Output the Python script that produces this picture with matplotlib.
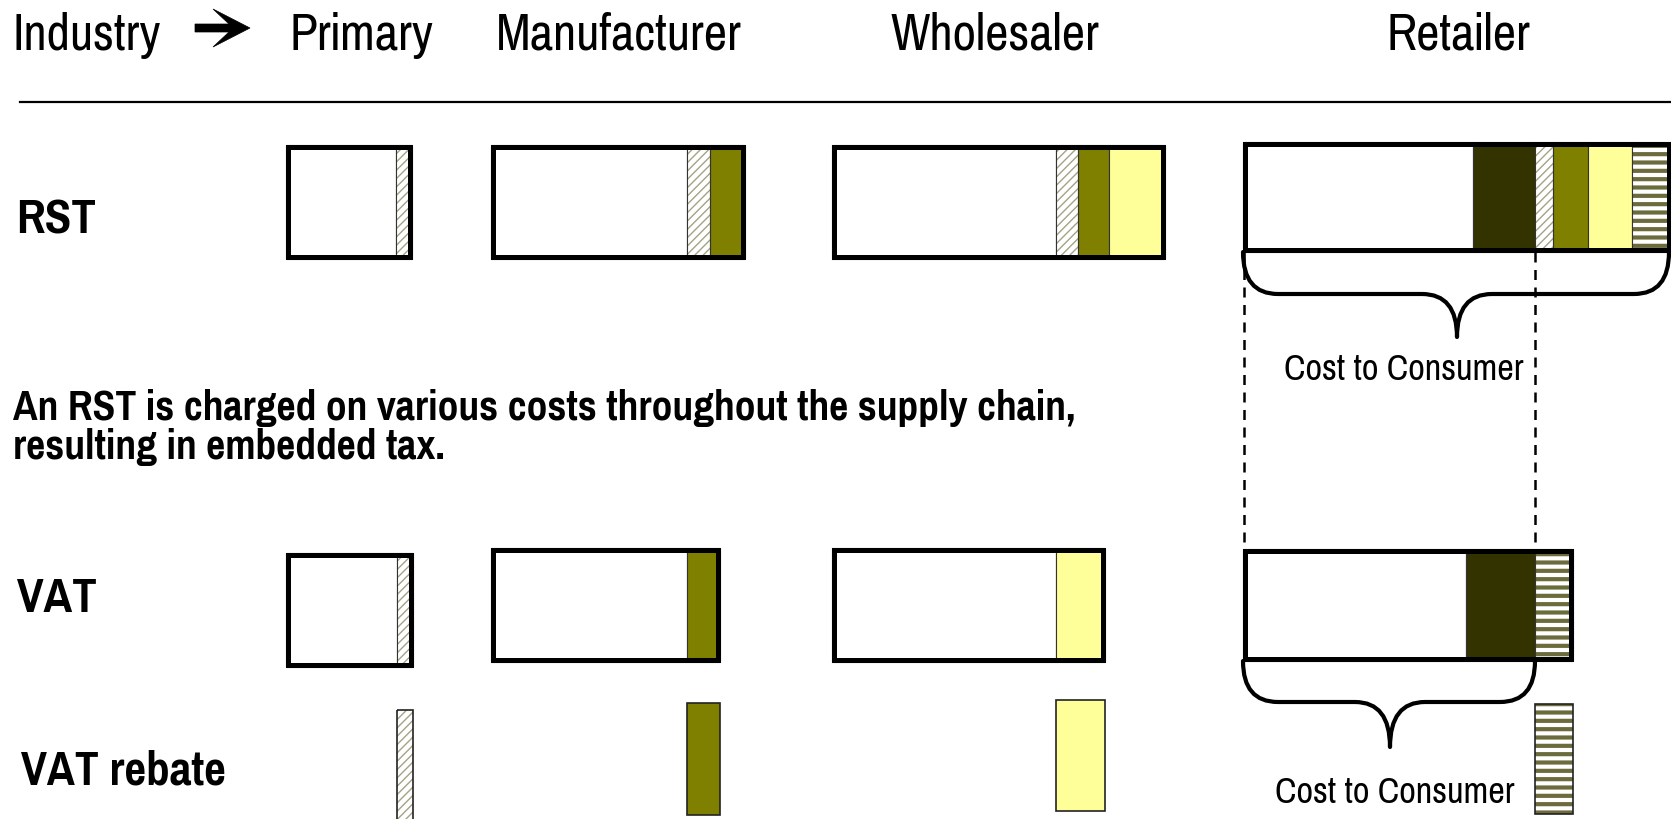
import matplotlib
matplotlib.use('Agg')
import matplotlib.pyplot as plt
from matplotlib.patches import Rectangle, PathPatch, Polygon
from matplotlib.path import Path

plt.rcParams['font.family'] = ['Pragati Narrow', 'Liberation Sans', 'DejaVu Sans']

W, H = 1671, 820

############################ data ############################################
stages = ['Primary', 'Manufacturer', 'Wholesaler', 'Retailer']
row_labels = ['RST', 'VAT', 'VAT rebate']
note_lines = ['An RST is charged on various costs throughout the supply chain,',
              'resulting in embedded tax.']
brace_label = 'Cost to Consumer'

# RST bar pieces per stage (widths, px)
rst_base = [110, 196, 224, 230]
rst_margin = [0, 0, 0, 62]
rst_tax_primary = [16, 23, 22, 18]
rst_tax_mfr = [0, 35, 31, 35]
rst_tax_whole = [0, 0, 56, 44]
rst_tax_retail = [0, 0, 0, 39]

# VAT bar pieces per stage
vat_base = [111, 196, 224, 223]
vat_margin = [0, 0, 0, 69]
vat_tax = [16, 33, 49, 38]

######################### layout ###########################################
header_x = [361, 619, 995, 1458]
box_x = [286, 491, 832, 1243]
rst_top = [146, 146, 146, 143]
rst_bot = [260, 260, 260, 253]
vat_top = [554, 549, 549, 550]
vat_bot = [668, 663, 663, 662]
reb_top = [711, 704, 701, 705]
reb_bot = [835, 816, 812, 815]

styles = {
    'base': dict(fc='white'),
    'margin': dict(fc='#333300'),
    'primary': dict(fc='white', hatch='////', hc='#a3a386'),
    'mfr': dict(fc='#808000'),
    'whole': dict(fc='#ffff99'),
    'retail': dict(fc='white', hatch='--', hc='#6b6b3c'),
}
stage_style = ['primary', 'mfr', 'whole', 'retail']

fig = plt.figure(figsize=(W / 100, H / 100), dpi=100)
ax = fig.add_axes([0, 0, 1, 1])
ax.set_xlim(0, W)
ax.set_ylim(H, 0)
ax.axis('off')


def piece(x, y0, w, y1, key, edge='#333333', lw=0.8):
    st = styles[key]
    if 'hatch' in st:
        ax.add_patch(Rectangle((x, y0), w, y1 - y0, facecolor=st['fc'], edgecolor='none', zorder=2))
        hlw = 3.0 if key == 'retail' else 1.0
        with plt.rc_context({'hatch.linewidth': hlw}):
            hp = Rectangle((x, y0), w, y1 - y0, facecolor='none', edgecolor=st['hc'],
                           linewidth=0, hatch=st['hatch'], zorder=2)
            if hasattr(hp, 'set_hatch_linewidth'):
                hp.set_hatch_linewidth(hlw)
        ax.add_patch(hp)
        ax.add_patch(Rectangle((x, y0), w, y1 - y0, fill=False, edgecolor=edge, linewidth=lw, zorder=3))
    else:
        ax.add_patch(Rectangle((x, y0), w, y1 - y0, facecolor=st['fc'], edgecolor=edge,
                               linewidth=lw, zorder=2))


def bar(x0, y0, y1, parts):
    x = x0
    for key, w in parts:
        if w > 0:
            piece(x, y0, w, y1, key)
            x += w
    # thick frame
    ax.add_patch(Rectangle((x0 + 2, y0 + 2), x - x0 - 4, y1 - y0 - 4, fill=False,
                           edgecolor='black', linewidth=3.6, zorder=4))
    return x


def brace(x0, x1, ytop, ymid, ytip, xc, r=35):
    verts = [(x0, ytop), (x0, ymid), (x0 + r, ymid),
             (xc - r, ymid), (xc, ymid), (xc, ytip),
             (xc, ymid), (xc + r, ymid),
             (x1 - r, ymid), (x1, ymid), (x1, ytop)]
    codes = [Path.MOVETO, Path.CURVE3, Path.CURVE3,
             Path.LINETO, Path.CURVE3, Path.CURVE3,
             Path.CURVE3, Path.CURVE3,
             Path.LINETO, Path.CURVE3, Path.CURVE3]
    ax.add_patch(PathPatch(Path(verts, codes), fill=False, edgecolor='black',
                           linewidth=3.0, capstyle='round', joinstyle='round', zorder=5))


def big_arrow(x0, x1, yc, h=38, t=8):
    # block arrow like the wingdings one
    hb = x1 - 37
    pts = [(x0, yc - t / 2), (x1 - 21, yc - t / 2), (hb, yc - h / 2), (x1, yc),
           (hb, yc + h / 2), (x1 - 21, yc + t / 2), (x0, yc + t / 2)]
    ax.add_patch(Polygon(pts, closed=True, facecolor='black', edgecolor='black', linewidth=0.5))


############################ header ##########################################
ax.text(13, 50, 'Industry', fontsize=40, va='baseline', ha='left')
big_arrow(195, 250, 29)
for s, hx in zip(stages, header_x):
    ax.text(hx, 50, s, fontsize=40, va='baseline', ha='center')
ax.plot([20, W], [103, 103], color='black', linewidth=1.6)

############################ rows ############################################
ax.text(16, 234, row_labels[0], fontsize=38, fontweight='bold', va='baseline')
ax.text(17, 612, row_labels[1], fontsize=38, fontweight='bold', va='baseline')
ax.text(21, 785, row_labels[2], fontsize=37, fontweight='bold', va='baseline')

for i in range(4):
    parts = [('base', rst_base[i]), ('margin', rst_margin[i]), ('primary', rst_tax_primary[i]),
             ('mfr', rst_tax_mfr[i]), ('whole', rst_tax_whole[i]), ('retail', rst_tax_retail[i])]
    bar(box_x[i], rst_top[i], rst_bot[i], parts)

    parts = [('base', vat_base[i]), ('margin', vat_margin[i]), (stage_style[i], vat_tax[i])]
    xend = bar(box_x[i], vat_top[i], vat_bot[i], parts)
    # rebate = the VAT paid at this stage
    piece(xend - vat_tax[i], reb_top[i], vat_tax[i], reb_bot[i], stage_style[i], edge='#222222', lw=1.2)

for i, l in enumerate(note_lines):
    ax.text(13, 420 + i * 39, l, fontsize=32.6, fontweight='bold', va='baseline')

############################ retailer braces #################################
rx = box_x[3]
cut = rx + rst_base[3] + rst_margin[3]
brace(rx, W - 2, rst_bot[3], 295, 338, 1457)
ax.text(1404, 380, brace_label, fontsize=28.5, ha='center', va='baseline')
brace(rx, cut, vat_bot[3], 703, 748, 1390)
ax.text(1395, 803, brace_label, fontsize=28.5, ha='center', va='baseline')
for xx in (rx + 1, cut):
    ax.plot([xx, xx], [rst_bot[3], vat_top[3]], color='black', linewidth=1.8,
            linestyle=(0, (4, 3)), zorder=1)

fig.savefig('out.png', dpi=100)
